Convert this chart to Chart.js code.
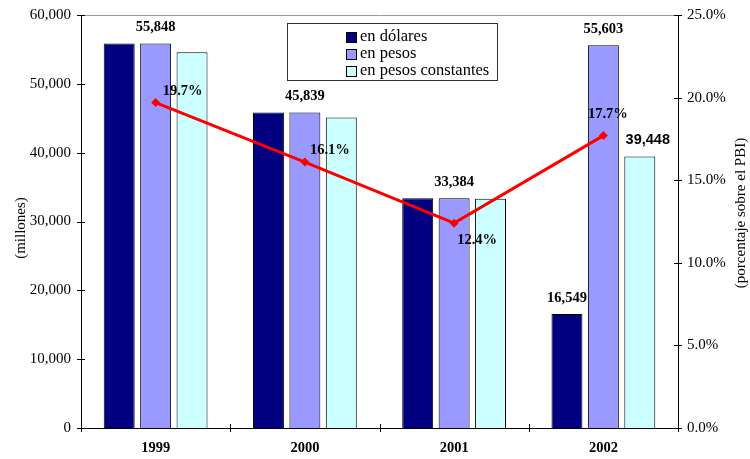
<!DOCTYPE html>
<html lang="es">
<head>
<meta charset="utf-8">
<title>Gasto por año</title>
<script src="https://cdn.jsdelivr.net/npm/chart.js@4.4.1/dist/chart.umd.min.js"></script>
<style>
  html, body { margin: 0; padding: 0; background: #fff; }
  canvas { display: block; }
</style>
</head>
<body>
<canvas id="grafico" width="750" height="459"></canvas>
<script>
// Años del eje de categorías
const categorias = ['1999', '2000', '2001', '2002'];

// Montos en millones
const enDolares = [55848, 45839, 33384, 16549];
const enPesos = [55848, 45839, 33384, 55603];
const enPesosConstantes = [54600, 45100, 33300, 39448];

// Porcentaje sobre el PBI (eje derecho)
const porcentajePBI = [19.7, 16.1, 12.4, 17.7];

// Qué barras llevan su valor escrito encima
const rotuloDolares = [false, false, false, true];
const rotuloPesos = [true, true, true, true];
const rotuloConstantes = [false, false, false, true];

const SERIF = "'Liberation Serif', 'Times New Roman', serif";
const SANS = "'Liberation Sans', Arial, sans-serif";

Chart.defaults.font.family = SERIF;
Chart.defaults.color = '#000';

const fmtMiles = v => Math.round(v).toString().replace(/\B(?=(\d{3})+(?!\d))/g, ',');

// Las escalas no reservan margen extra: el área de trazado la fija el layout
const sinRelleno = s => { s.paddingTop = 0; s.paddingBottom = 0; s.paddingLeft = 0; s.paddingRight = 0; };

const decorado = {
  id: 'decorado',
  afterDraw(chart, args, opts) {
    const ctx = chart.ctx;
    const a = chart.chartArea;
    const sy = chart.scales.y, sy2 = chart.scales.y2;
    ctx.save();

    // borde superior del área de trazado
    ctx.strokeStyle = '#9a9a9a';
    ctx.lineWidth = 1;
    ctx.beginPath();
    ctx.moveTo(a.left, a.top + 0.5);
    ctx.lineTo(a.right, a.top + 0.5);
    ctx.stroke();

    // marcas de graduación cruzadas sobre los ejes
    ctx.strokeStyle = '#000';
    ctx.beginPath();
    sy.ticks.forEach((t, i) => {
      const y = Math.round(sy.getPixelForTick(i)) + 0.5;
      ctx.moveTo(a.left - 4, y); ctx.lineTo(a.left + 4, y);
    });
    sy2.ticks.forEach((t, i) => {
      const y = Math.round(sy2.getPixelForTick(i)) + 0.5;
      ctx.moveTo(a.right - 4, y); ctx.lineTo(a.right + 4, y);
    });
    const n = categorias.length;
    for (let i = 0; i <= n; i++) {
      const x = Math.round(a.left + (a.right - a.left) * i / n) + 0.5;
      ctx.moveTo(x, a.bottom - 4); ctx.lineTo(x, a.bottom + 4);
    }
    ctx.stroke();

    // títulos de los ejes verticales
    ctx.fillStyle = '#000';
    ctx.font = '15px ' + SERIF;
    ctx.textAlign = 'center';
    ctx.textBaseline = 'middle';
    ctx.save();
    ctx.translate(21, 228);
    ctx.rotate(-Math.PI / 2);
    ctx.fillText('(millones)', 0, 0);
    ctx.restore();
    ctx.save();
    ctx.translate(741, 213);
    ctx.rotate(-Math.PI / 2);
    ctx.fillText('(porcentaje sobre el PBI)', 0, 0);
    ctx.restore();

    // leyenda enmarcada
    const L = opts.leyenda;
    ctx.fillStyle = '#fff';
    ctx.fillRect(L.x, L.y, L.w, L.h);
    ctx.strokeStyle = '#333';
    ctx.strokeRect(L.x + 0.5, L.y + 0.5, L.w, L.h);
    ctx.font = L.fuente + 'px ' + SERIF;
    ctx.textAlign = 'left';
    ctx.textBaseline = 'middle';
    chart.data.datasets.filter(d => d.type !== 'line').forEach((d, i) => {
      const cy = L.y + L.primera + i * L.paso;
      ctx.fillStyle = d.backgroundColor;
      ctx.fillRect(L.cuadroX, cy - 5, 10, 10);
      ctx.strokeStyle = '#000';
      ctx.strokeRect(L.cuadroX + 0.5, cy - 4.5, 10, 10);
      ctx.fillStyle = '#000';
      ctx.fillText(d.label, L.cuadroX + 14, cy);
    });

    // valores sobre las barras
    const rotulos = [rotuloDolares, rotuloPesos, rotuloConstantes];
    ctx.textAlign = 'center';
    ctx.textBaseline = 'middle';
    rotulos.forEach((marcas, di) => {
      const meta = chart.getDatasetMeta(di);
      const datos = chart.data.datasets[di].data;
      marcas.forEach((m, j) => {
        if (!m) return;
        const el = meta.data[j];
        const sans = di === 2;
        ctx.font = 'bold 14.5px ' + (sans ? SANS : SERIF);
        ctx.fillText(fmtMiles(datos[j]), el.x + (sans ? opts.corrimientoSans : 0), el.y - 16);
      });
    });

    // valores de la línea de porcentaje
    const metaL = chart.getDatasetMeta(3);
    ctx.font = 'bold 14.5px ' + SERIF;
    porcentajePBI.forEach((v, j) => {
      const el = metaL.data[j];
      const d = opts.desplazamientos[j];
      ctx.fillText(v.toFixed(1) + '%', el.x + d[0], el.y + d[1]);
    });

    ctx.restore();
  }
};

const barra = { borderColor: '#000', borderWidth: 1, categoryPercentage: 0.732, barPercentage: 0.85, yAxisID: 'y', order: 2 };

new Chart(document.getElementById('grafico'), {
  type: 'bar',
  data: {
    labels: categorias,
    datasets: [
      Object.assign({ label: 'en dólares', data: enDolares, backgroundColor: '#000080' }, barra),
      Object.assign({ label: 'en pesos', data: enPesos, backgroundColor: '#9999FF' }, barra),
      Object.assign({ label: 'en pesos constantes', data: enPesosConstantes, backgroundColor: '#CCFFFF' }, barra),
      {
        type: 'line', label: 'porcentaje sobre el PBI', data: porcentajePBI, yAxisID: 'y2', order: 0,
        borderColor: '#FF0000', backgroundColor: '#FF0000', borderWidth: 3,
        pointStyle: 'rectRot', pointRadius: 4.5, pointBorderWidth: 0,
        tension: 0, fill: false
      }
    ]
  },
  options: {
    responsive: false,
    animation: false,
    layout: { padding: { top: 15, left: 0, right: 0, bottom: 0 } },
    plugins: {
      legend: { display: false },
      tooltip: { enabled: false },
      decorado: {
        leyenda: { x: 287, y: 23, w: 210, h: 57, fuente: 16.5, primera: 14, paso: 17, cuadroX: 346 },
        desplazamientos: [[27, -11], [25, -11.5], [23, 17], [4.5, -21]],
        corrimientoSans: 8
      }
    },
    scales: {
      x: {
        offset: true,
        grid: { display: false, drawTicks: false },
        border: { display: true, color: '#000', width: 1 },
        ticks: { font: { size: 14.5, weight: 'bold' }, padding: 12, maxRotation: 0 },
        afterFit: s => { sinRelleno(s); s.height = 31; }
      },
      y: {
        position: 'left', min: 0, max: 60000,
        grid: { display: false, drawTicks: false },
        border: { display: true, color: '#000', width: 1 },
        ticks: { stepSize: 10000, font: { size: 15 }, padding: 10, callback: v => fmtMiles(v) },
        afterFit: s => { sinRelleno(s); s.width = 81; }
      },
      y2: {
        position: 'right', min: 0, max: 25,
        grid: { display: false, drawTicks: false },
        border: { display: true, color: '#000', width: 1 },
        ticks: { stepSize: 5, font: { size: 15 }, padding: 9, callback: v => v.toFixed(1) + '%' },
        afterFit: s => { sinRelleno(s); s.width = 72; }
      }
    }
  },
  plugins: [decorado]
});
</script>
</body>
</html>
